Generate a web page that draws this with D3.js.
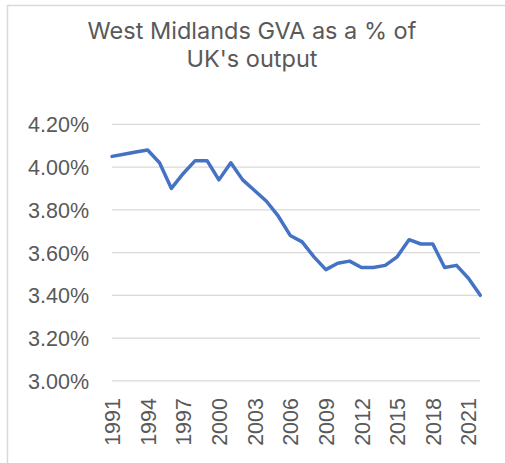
<!DOCTYPE html>
<html><head><meta charset="utf-8">
<script src="https://cdn.jsdelivr.net/npm/d3@7"></script>
<style>html,body{margin:0;padding:0;background:#fff;overflow:hidden}</style>
</head><body>
<script>
const years = d3.range(1991, 2023);
const gvaShare = [4.05,4.06,4.07,4.08,4.02,3.90,3.97,4.03,4.03,3.94,4.02,3.94,3.89,3.84,3.77,3.68,3.65,3.58,3.52,3.55,3.56,3.53,3.53,3.54,3.58,3.66,3.64,3.64,3.53,3.54,3.48,3.40];
const yTicks = [3.0,3.2,3.4,3.6,3.8,4.0,4.2];
const xTickYears = [1991,1994,1997,2000,2003,2006,2009,2012,2015,2018,2021];
const titleLines = ["West Midlands GVA as a % of", "UK's output"];

const W = 505, H = 463;
const svg = d3.select("body").append("svg").attr("width", W).attr("height", H);

svg.append("rect").attr("x", 7.5).attr("y", 5.5).attr("width", 600).attr("height", 600)
  .attr("fill", "#fff").attr("stroke", "#d9d9d9").attr("stroke-width", 1.5);

const x = d3.scalePoint().domain(years).range([112, 480.3]);
const y = d3.scaleLinear().domain([3.0, 4.2]).range([380.8, 124.3]);

const grid = svg.append("g");
grid.selectAll("line").data(yTicks).join("line")
  .attr("x1", 112).attr("x2", 480.3)
  .attr("y1", d => y(d)).attr("y2", d => y(d))
  .attr("stroke", "#d9d9d9").attr("stroke-width", 1.25);

const yAxis = d3.axisLeft(y).tickValues(yTicks).tickSize(0).tickPadding(0)
  .tickFormat(d => d3.format(".2f")(d) + "%");
const gy = svg.append("g").attr("transform", "translate(89,0)").call(yAxis);
gy.select(".domain").remove();
gy.selectAll("text").attr("font-family", "'Liberation Sans', Arial, sans-serif")
  .attr("font-size", 21.5).attr("fill", "#595959").attr("dy", "0.35em");

const xAxis = d3.axisBottom(x).tickValues(xTickYears).tickSize(0).tickPadding(0);
const gx = svg.append("g").attr("transform", "translate(0,398)").call(xAxis);
gx.select(".domain").remove();
gx.selectAll("text")
  .attr("font-family", "'Liberation Sans', Arial, sans-serif")
  .attr("font-size", 21.5).attr("fill", "#595959")
  .attr("transform", "rotate(-90)")
  .attr("text-anchor", "end").attr("x", 0).attr("y", 0).attr("dy", "0.35em");

const line = d3.line().x((d, i) => x(years[i])).y(d => y(d));
svg.append("path").datum(gvaShare).attr("d", line)
  .attr("fill", "none").attr("stroke", "#4472c4").attr("stroke-width", 3.5)
  .attr("stroke-linejoin", "round").attr("stroke-linecap", "round");

const title = svg.append("g").attr("text-anchor", "middle")
  .attr("font-family", "Inter, sans-serif").attr("font-size", 23.5).attr("fill", "#595959");
title.selectAll("text").data(titleLines).join("text")
  .attr("x", 252).attr("y", (d, i) => 38.5 + i * 28.5).text(d => d);
</script>
</body></html>
